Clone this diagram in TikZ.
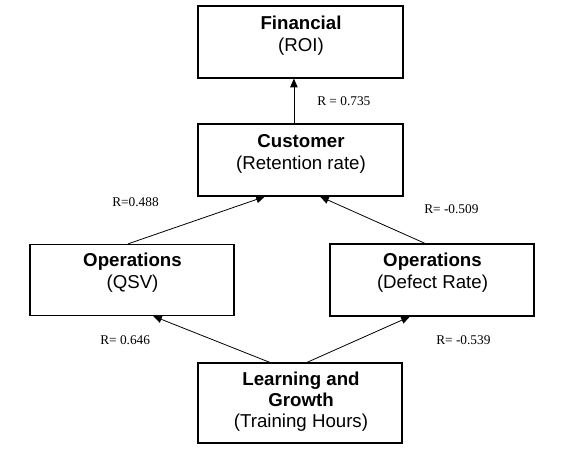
\documentclass[tikz,border=0pt]{standalone}
\usepackage{fontspec}
\setmainfont{Liberation Sans}
\newfontfamily\lblfont{Liberation Serif}
\usetikzlibrary{calc,arrows.meta}
\tikzset{
  boxnode/.style={draw=black, line width=0.9pt, rectangle, inner sep=0pt, fill=none},
  boxtext/.style={align=center, inner sep=0pt, font=\fontsize{14}{16.5}\selectfont},
  rlabel/.style={inner sep=0pt, font=\lblfont\fontsize{10}{12}\selectfont},
  link/.style={line width=0.6pt, -{Triangle[length=6.5pt,width=5.5pt]}}
}
\begin{document}
\begin{tikzpicture}[x=0.75pt,y=-0.75pt]
\useasboundingbox (0,0) rectangle (569,449);
% boxes
\node[boxnode, minimum width=205*0.75pt, minimum height=72*0.75pt] (fin) at (300.5,42) {};
\node[boxnode, minimum width=205*0.75pt, minimum height=72*0.75pt] (cust) at (300.5,160) {};
\node[boxnode, minimum width=204*0.75pt, minimum height=71*0.75pt] (qsv) at (132,280) {};
\node[boxnode, minimum width=204*0.75pt, minimum height=72*0.75pt] (def) at (432,280) {};
\node[boxnode, minimum width=204*0.75pt, minimum height=80*0.75pt] (lg) at (300,403) {};
% texts
\node[boxtext] (fint) at (301,35.5) {\textbf{Financial}\\(ROI)};
\node[boxtext] (custt) at (301,154) {\textbf{Customer}\\(Retention rate)};
\node[boxtext] (qsvt) at (132.5,272.5) {\textbf{Operations}\\(QSV)};
\node[boxtext] (deft) at (432.5,272.5) {\textbf{Operations}\\(Defect Rate)};
\node[boxtext, font=\fontsize{14}{15.8}\selectfont] (lgt) at (301,401.5) {\textbf{Learning and}\\\textbf{Growth}\\(Training Hours)};
% connectors
\draw[link] ($(cust.north west)!0.468!(cust.north east)$) -- ($(fin.south west)!0.468!(fin.south east)$);
\draw[link] ($(qsv.north west)!0.48!(qsv.north east)$) -- ($(cust.south west)!0.327!(cust.south east)$);
\draw[link] ($(def.north west)!0.466!(def.north east)$) -- ($(cust.south west)!0.595!(cust.south east)$);
\draw[link] ($(lg.north west)!0.353!(lg.north east)$) -- ($(qsv.south west)!0.603!(qsv.south east)$);
\draw[link] ($(lg.north west)!0.534!(lg.north east)$) -- ($(def.south west)!0.392!(def.south east)$);
% labels
\node[rlabel, anchor=west] (r1) at (317,101) {R = 0.735};
\node[rlabel, anchor=west] (r2) at (112,202) {R=0.488};
\node[rlabel, anchor=west] (r3) at (424,209) {R= -0.509};
\node[rlabel, anchor=west] (r4) at (100,340) {R= 0.646};
\node[rlabel, anchor=west] (r5) at (436,340) {R= -0.539};
\end{tikzpicture}
\end{document}
